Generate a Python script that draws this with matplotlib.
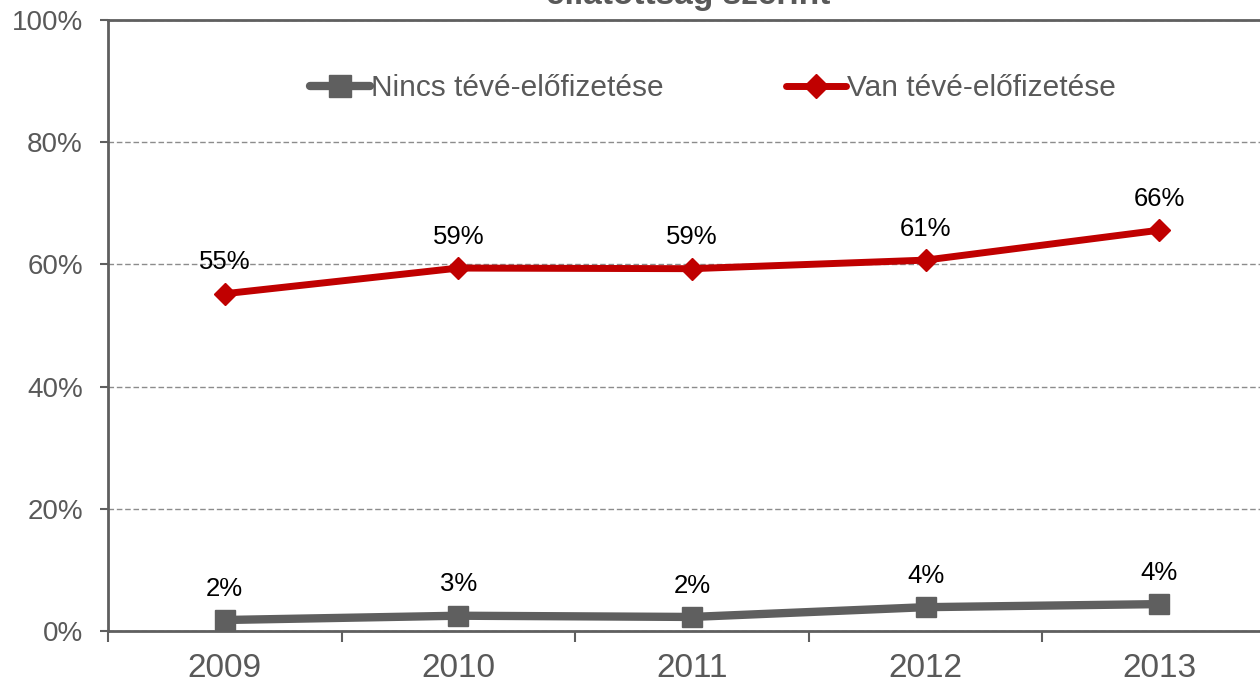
import matplotlib.pyplot as plt
from matplotlib.ticker import FixedLocator, PercentFormatter

# adatok
years = ['2009', '2010', '2011', '2012', '2013']
nincs = [0.018, 0.025, 0.023, 0.039, 0.044]
van = [0.552, 0.594, 0.593, 0.607, 0.656]
nincs_labels = ['2%', '3%', '2%', '4%', '4%']
van_labels = ['55%', '59%', '59%', '61%', '66%']

gray = '#5f5f5f'
red = '#c00000'
plt.rcParams['font.family'] = ['Liberation Sans', 'DejaVu Sans']

fig = plt.figure(figsize=(12.6, 6.86), dpi=100)
ax = fig.add_axes([108 / 1260, 1 - 631 / 686, 1168 / 1260, 611 / 686])

x = list(range(len(years)))
ax.plot(x, nincs, color=gray, lw=6, marker='s', ms=14, mfc=gray, mec=gray,
        solid_capstyle='round', label='Nincs tévé-előfizetése')
ax.plot(x, van, color=red, lw=5, marker='D', ms=11, mfc=red, mec=red,
        solid_capstyle='round', label='Van tévé-előfizetése')

# adatcímkék
for i in x:
    ax.annotate(nincs_labels[i], (i, nincs[i]), xytext=(0, 14), textcoords='offset points',
                ha='center', va='bottom', fontsize=18.5, color='black')
    ax.annotate(van_labels[i], (i, van[i]), xytext=(0, 14), textcoords='offset points',
                ha='center', va='bottom', fontsize=18.5, color='black')

ax.set_xlim(-0.5, 4.5)
ax.set_ylim(0, 1)
ax.set_xticks(x)
ax.set_xticklabels(years)
ax.xaxis.set_minor_locator(FixedLocator([i + 0.5 for i in range(-1, 5)]))
ax.tick_params(axis='x', which='major', length=0, pad=16, labelsize=24, labelcolor='#595959')
ax.tick_params(axis='x', which='minor', length=8, width=1.5, color=gray)
ax.set_yticks([0, 0.2, 0.4, 0.6, 0.8, 1.0])
ax.yaxis.set_major_formatter(PercentFormatter(1.0, decimals=0))
ax.tick_params(axis='y', length=6, width=1.5, color=gray, labelsize=20, labelcolor='#595959', pad=12)

ax.grid(axis='y', color='#8c8c8c', linestyle='--', lw=1, dashes=(4, 2))
ax.set_axisbelow(True)
for s in ['left', 'bottom', 'top']:
    ax.spines[s].set_color(gray)
    ax.spines[s].set_linewidth(2)
ax.spines['right'].set_visible(False)

ax.legend(loc='center left', bbox_to_anchor=((310 - 108) / 1168, 1 - 68 / 611), ncol=2,
          frameon=False, fontsize=21.5, labelcolor='#595959', handlelength=2.0,
          handletextpad=0.05, columnspacing=4.1, borderaxespad=0, borderpad=0,
          markerscale=1.15)

# a cím a kép felső szélén túlnyúlik, mint az eredetin
fig.text(688 / 1260, 1 - 4 / 686, 'ellátottság szerint', ha='center', va='baseline',
         fontsize=24, color='#595959', fontweight='bold')

fig.savefig('out.png', dpi=100)
